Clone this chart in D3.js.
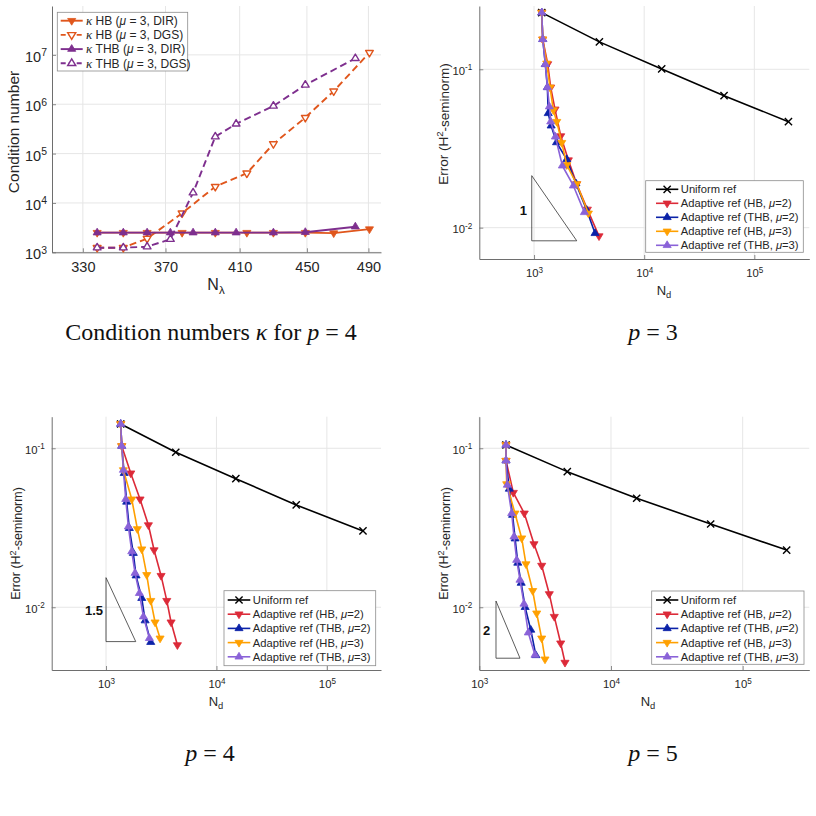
<!DOCTYPE html>
<html><head><meta charset="utf-8">
<script src="https://cdn.jsdelivr.net/npm/d3@7"></script>
<style>body{margin:0;background:#fff} svg{display:block}</style>
</head><body><svg id="c" width="816" height="816"></svg>
<script>
// ---------------- DATA ----------------
// Panel (a): condition numbers, p = 4
const condTicksX = [330, 370, 410, 450, 490];
const condTicksY = [1e3, 1e4, 1e5, 1e6, 1e7];
const condNHB  = [336.6, 349.0, 360.7, 378.6, 396.4, 414.1, 429.6, 449.0, 467.0, 490.7];
const condNTHB = [336.6, 349.0, 360.7, 372.5, 384.4, 396.4, 408.0, 429.6, 449.0, 481.2];
const kappaHB_DIR  = [2500, 2500, 2500, 2500, 2500, 2500, 2500, 2500, 2450, 2950];
const kappaHB_DGS  = [1240, 1240, 1900, 6200, 21400, 40000, 157000, 535000, 1840000, 11100000];
const kappaTHB_DIR = [2500, 2500, 2500, 2500, 2500, 2500, 2500, 2500, 2550, 3300];
const kappaTHB_DGS = [1240, 1240, 1300, 1840, 16100, 220000, 400000, 920000, 2460000, 8500000];
const condLegend = ["HB (", "HB (", "THB (", "THB ("];
const condLegendTail = ["DIR)", "DGS)", "DIR)", "DGS)"];

// error panels
const errTicksX = [1e3, 1e4, 1e5];
const errTicksY = [1e-2, 1e-1];
const errLegend = ["Uniform ref", "Adaptive ref (HB, ", "Adaptive ref (THB, ", "Adaptive ref (HB, ", "Adaptive ref (THB, "];
const errLegendMu = ["", "2", "2", "3", "3"];

// p = 3
const p3UniN = [1175, 3920, 14420, 53100, 204000];
const p3UniE = [0.228, 0.149, 0.1005, 0.0681, 0.0467];
const p3HB2N = [1175, 1200, 1331, 1417, 1551, 1747, 2050, 2440, 3050, 3890];
const p3HB2E = [0.228, 0.1547, 0.108, 0.0769, 0.0559, 0.0379, 0.0267, 0.01886, 0.01304, 0.00885];
const p3THB2N = [1175, 1200, 1267, 1322, 1345, 1430, 1600, 1982, 2400, 3008, 3578];
const p3THB2E = [0.228, 0.1547, 0.1075, 0.0769, 0.0527, 0.0440, 0.0345, 0.0270, 0.0190, 0.0129, 0.00921];
const p3HB3N = [1175, 1200, 1303, 1397, 1497, 1607, 1784, 1982, 2440, 3115];
const p3HB3E = [0.228, 0.1547, 0.1091, 0.0769, 0.0553, 0.0467, 0.0344, 0.0249, 0.01886, 0.01232];
const p3THB3N = [1175, 1200, 1267, 1322, 1378, 1417, 1562, 1808, 2276, 2865];
const p3THB3E = [0.228, 0.1547, 0.1075, 0.0769, 0.0581, 0.0467, 0.0375, 0.0246, 0.0184, 0.01249];
const p3TriN = [953, 2442];
const p3TriE = [0.0213, 0.00826];
const p3TriLabel = "1";

// p = 4
const p4UniN = [1358, 4280, 14980, 52740, 212200];
const p4UniE = [0.1422, 0.0944, 0.0644, 0.0440, 0.0302];
const p4HB2N = [1358, 1388, 1675, 2033, 2419, 2723, 3151, 3549, 3882, 4428];
const p4HB2E = [0.1422, 0.1034, 0.0697, 0.0478, 0.0329, 0.0229, 0.0158, 0.0110, 0.00805, 0.00579];
const p4THB2N = [1358, 1388, 1460, 1538, 1625, 1766, 1870, 2107, 2260, 2540];
const p4THB2E = [0.1422, 0.1034, 0.0697, 0.046, 0.0314, 0.0219, 0.0158, 0.0114, 0.00824, 0.00603];
const p4HB3N = [1358, 1388, 1436, 1710, 1922, 2107, 2338, 2542, 2781, 3086];
const p4HB3E = [0.1422, 0.1034, 0.0730, 0.0478, 0.0311, 0.0232, 0.0160, 0.0110, 0.00805, 0.00638];
const p4THB3N = [1358, 1388, 1436, 1508, 1594, 1710, 1831, 2005, 2180, 2470];
const p4THB3E = [0.1422, 0.1034, 0.0730, 0.0478, 0.0321, 0.0224, 0.0164, 0.01225, 0.00873, 0.00638];
const p4TriN = [1000, 1858];
const p4TriE = [0.01535, 0.00608];
const p4TriLabel = "1.5";

// p = 5
const p5UniN = [1595, 4658, 15670, 57150, 215800];
const p5UniE = [0.1049, 0.0713, 0.0485, 0.0334, 0.0229];
const p5HB2N = [1595, 1595, 1813, 2196, 2602, 2977, 3400, 3711, 4150, 4475];
const p5HB2E = [0.1049, 0.0836, 0.0526, 0.0390, 0.0250, 0.0183, 0.01213, 0.00873, 0.00594, 0.00449];
const p5THB2N = [1595, 1595, 1690, 1790, 1870, 1960, 2080, 2230, 2460, 2690];
const p5THB2E = [0.1049, 0.0836, 0.0555, 0.0380, 0.0270, 0.0190, 0.0142, 0.0100, 0.0072, 0.00498];
const p5HB3N = [1595, 1595, 1615, 1866, 2099, 2262, 2544, 2728, 2977, 3155];
const p5HB3E = [0.1049, 0.0836, 0.0596, 0.0390, 0.0272, 0.0187, 0.0127, 0.00917, 0.00638, 0.00471];
const p5THB3N = [1595, 1595, 1632, 1762, 1834, 1923, 2037, 2184, 2355, 2649];
const p5THB3E = [0.1049, 0.0836, 0.0588, 0.0390, 0.0278, 0.0198, 0.01485, 0.0105, 0.00692, 0.00501];
const p5TriN = [1339, 2037];
const p5TriE = [0.01095, 0.00478];
const p5TriLabel = "2";

// ---------------- DRAWING ----------------
const svg = d3.select("#c");
const SANS = "'Liberation Sans', Arial, Helvetica, sans-serif";
const SERIF = "'Liberation Serif', 'Times New Roman', serif";
const AX = "#6e6e6e", GRID = "#e6e6e6";
const C = {red: "#dc2a38", blue: "#0b22a8", orange: "#ffa000", purple: "#8a62d8",
           hb: "#e0561c", thb: "#7e2f8e"};

function triPath(r, down) {
  const h = r * 0.5, w = r * 0.9;
  return down ? `M0,${r} L${w},${-h} L${-w},${-h} Z` : `M0,${-r} L${w},${h} L${-w},${h} Z`;
}
function crossPath(r) { return `M${-r},${-r}L${r},${r}M${-r},${r}L${r},${-r}`; }

function supText(sel, exp) {
  sel.text(null);
  sel.append("tspan").text("10");
  sel.append("tspan").attr("dy", "-0.55em").attr("font-size", "0.72em").text(exp);
}

function frame(g, x, y, opts) {
  const [x0, x1] = x.range(), [y0, y1] = y.range();
  g.append("g").selectAll("line").data(opts.xt).join("line")
    .attr("x1", d => x(d)).attr("x2", d => x(d)).attr("y1", y0).attr("y2", y1)
    .attr("stroke", GRID).attr("stroke-width", 1);
  g.append("g").selectAll("line").data(opts.yt).join("line")
    .attr("y1", d => y(d)).attr("y2", d => y(d)).attr("x1", x0).attr("x2", x1)
    .attr("stroke", GRID).attr("stroke-width", 1);
  const ax = g.append("g").attr("transform", `translate(0,${y0})`)
    .call(d3.axisBottom(x).tickValues(opts.xt).tickSize(-4).tickSizeOuter(0).tickPadding(opts.xpad));
  const ay = g.append("g").attr("transform", `translate(${x0},0)`)
    .call(d3.axisLeft(y).tickValues(opts.yt).tickSize(-4).tickSizeOuter(0).tickPadding(opts.ypad));
  [ax, ay].forEach(a => {
    a.select(".domain").attr("stroke", AX).attr("stroke-width", 1);
    a.selectAll(".tick line").attr("stroke", AX).attr("stroke-width", 0.8);
    a.selectAll(".tick text").attr("font-family", SANS).attr("font-size", opts.fs).attr("fill", "#262626");
  });
  if (opts.xsup) ax.selectAll(".tick text").each(function(d) { supText(d3.select(this), Math.round(Math.log10(d))); });
  else ax.selectAll(".tick text").text(d => d);
  ay.selectAll(".tick text").each(function(d) { supText(d3.select(this), Math.round(Math.log10(d))); })
    .attr("dy", "0.45em");
}

function series(g, x, y, N, V, color, shape, o = {}) {
  const pts = N.map((n, i) => [n, V[i]]);
  g.append("path").datum(pts)
    .attr("d", d3.line().x(d => x(d[0])).y(d => y(d[1])))
    .attr("fill", "none").attr("stroke", color).attr("stroke-width", o.lw || 1.6)
    .attr("stroke-dasharray", o.dash || null).attr("stroke-linejoin", "round");
  const r = o.r || 4.5;
  const mk = g.append("g").selectAll("path").data(pts).join("path")
    .attr("transform", d => `translate(${x(d[0])},${y(d[1])})`);
  if (shape === "x") {
    mk.attr("d", crossPath(3.6)).attr("stroke", color).attr("stroke-width", 1.4).attr("fill", "none");
  } else {
    mk.attr("d", triPath(r, shape === "down"))
      .attr("fill", o.hollow ? "#fff" : color).attr("stroke", color)
      .attr("stroke-width", o.hollow ? 1.4 : 0.8).attr("stroke-linejoin", "round");
  }
}

function legendMarker(g, cx, cy, color, shape, o = {}) {
  const p = g.append("path").attr("transform", `translate(${cx},${cy})`);
  if (shape === "x") p.attr("d", crossPath(3.6)).attr("stroke", color).attr("stroke-width", 1.4).attr("fill", "none");
  else p.attr("d", triPath(4.5, shape === "down")).attr("fill", o.hollow ? "#fff" : color)
    .attr("stroke", color).attr("stroke-width", o.hollow ? 1.4 : 0.8);
}

// ---------- Panel: condition numbers ----------
{
  const g = svg.append("g");
  const x = d3.scaleLog().domain([316.2, 498.6]).range([52, 381]);
  const y = d3.scaleLog().domain([1e3, Math.pow(10, 7.99)]).range([252.3, 6]);
  frame(g, x, y, {xt: condTicksX, yt: condTicksY, xpad: 9.5, ypad: 5, fs: 14.5, xsup: false});
  series(g, x, y, condNHB, kappaHB_DIR, C.hb, "down", {lw: 1.9});
  series(g, x, y, condNHB, kappaHB_DGS, C.hb, "down", {lw: 1.9, dash: "7,4", hollow: true, r: 4.3});
  series(g, x, y, condNTHB, kappaTHB_DIR, C.thb, "up", {lw: 1.9});
  series(g, x, y, condNTHB, kappaTHB_DGS, C.thb, "up", {lw: 1.9, dash: "7,4", hollow: true, r: 4.3});
  g.append("text").attr("transform", "translate(18.5,132) rotate(-90)").attr("text-anchor", "middle")
    .attr("font-family", SANS).attr("font-size", 15.5).attr("fill", "#262626").text("Condition number");
  const xl = g.append("text").attr("x", 216).attr("y", 290).attr("text-anchor", "middle")
    .attr("font-family", SANS).attr("font-size", 16).attr("fill", "#262626");
  xl.append("tspan").text("N");
  xl.append("tspan").attr("dy", "0.35em").attr("font-size", "0.72em").text("λ");
  const lg = g.append("g");
  lg.append("rect").attr("x", 57.3).attr("y", 12.3).attr("width", 130.4).attr("height", 58.7)
    .attr("fill", "#fff").attr("stroke", "#8c8c8c").attr("stroke-width", 0.8);
  const specs = [[C.hb, "down", false, null], [C.hb, "down", true, "5,3"], [C.thb, "up", false, null], [C.thb, "up", true, "5,3"]];
  specs.forEach((s, i) => {
    const yy = 20.7 + i * 14.2;
    lg.append("line").attr("x1", 60.7).attr("x2", 82.7).attr("y1", yy).attr("y2", yy)
      .attr("stroke", s[0]).attr("stroke-width", 1.9).attr("stroke-dasharray", s[3]);
    legendMarker(lg, 71.7, yy, s[0], s[1], {hollow: s[2]});
    const t = lg.append("text").attr("x", 86).attr("y", yy + 4.2).attr("font-family", SANS)
      .attr("font-size", 12).attr("fill", "#262626");
    t.append("tspan").attr("font-style", "italic").attr("font-family", SERIF).attr("font-size", 13).text("κ");
    t.append("tspan").text(" " + condLegend[i]);
    t.append("tspan").attr("font-style", "italic").text("μ");
    t.append("tspan").text(" = 3, " + condLegendTail[i]);
  });
}

// ---------- Error panels ----------
function errorPanel(cfg) {
  const g = svg.append("g");
  const x = d3.scaleLog().domain(cfg.xd).range(cfg.xr);
  const y = d3.scaleLog().domain(cfg.yd).range(cfg.yr);
  frame(g, x, y, {xt: errTicksX, yt: errTicksY, xpad: 10, ypad: 7, fs: 11.3, xsup: true});
  const [tn0, tn1] = cfg.triN, [te0, te1] = cfg.triE;
  g.append("path")
    .attr("d", `M${x(tn0)},${y(te0)}L${x(tn0)},${y(te1)}L${x(tn1)},${y(te1)}Z`)
    .attr("fill", "none").attr("stroke", "#333").attr("stroke-width", 0.8);
  g.append("text").attr("x", cfg.triLab[0]).attr("y", cfg.triLab[1]).attr("text-anchor", "middle")
    .attr("font-family", SANS).attr("font-weight", "bold").attr("font-size", 13).attr("fill", "#111")
    .text(cfg.triText);
  const cols = ["#000", C.red, C.blue, C.orange, C.purple];
  const shapes = ["x", "down", "up", "down", "up"];
  cfg.N.forEach((N, i) => series(g, x, y, N, cfg.E[i], cols[i], shapes[i], {lw: 1.6}));
  g.append("text").attr("transform", `translate(${cfg.ylab[0]},${cfg.ylab[1]}) rotate(-90)`).attr("text-anchor", "middle")
    .attr("font-family", SANS).attr("font-size", cfg.ylfs).attr("fill", "#262626")
    .call(t => { t.append("tspan").text("Error (H"); t.append("tspan").attr("dy", "-0.45em").attr("font-size", "0.72em").text("2");
                 t.append("tspan").attr("dy", "0.45em").text("-seminorm)"); });
  const xl = g.append("text").attr("x", cfg.xlab[0]).attr("y", cfg.xlab[1]).attr("text-anchor", "middle")
    .attr("font-family", SANS).attr("font-size", 13).attr("fill", "#262626");
  xl.append("tspan").text("N");
  xl.append("tspan").attr("dy", "0.35em").attr("font-size", "0.72em").text("d");
  const L = cfg.leg;
  const lg = g.append("g");
  lg.append("rect").attr("x", L.x0).attr("y", L.y0).attr("width", L.x1 - L.x0).attr("height", L.y1 - L.y0)
    .attr("fill", "#fff").attr("stroke", "#8c8c8c").attr("stroke-width", 0.8);
  errLegend.forEach((lab, i) => {
    const yy = L.r0 + i * L.dr;
    lg.append("line").attr("x1", L.l0).attr("x2", L.l1).attr("y1", yy).attr("y2", yy)
      .attr("stroke", cols[i]).attr("stroke-width", 1.6);
    legendMarker(lg, (L.l0 + L.l1) / 2, yy, cols[i], shapes[i]);
    const t = lg.append("text").attr("x", L.l1 + 2.5).attr("y", yy + 4).attr("font-family", SANS)
      .attr("font-size", 11.2).attr("fill", "#262626");
    t.append("tspan").text(lab);
    if (errLegendMu[i]) {
      t.append("tspan").attr("font-style", "italic").text("μ");
      t.append("tspan").text("=" + errLegendMu[i] + ")");
    }
  });
}

errorPanel({
  xd: [Math.pow(10, 2.503), Math.pow(10, 5.499)], xr: [479.3, 809.3],
  yd: [0.00634, 0.251], yr: [259, 6],
  N: [p3UniN, p3HB2N, p3THB2N, p3HB3N, p3THB3N], E: [p3UniE, p3HB2E, p3THB2E, p3HB3E, p3THB3E],
  triN: p3TriN, triE: p3TriE, triText: p3TriLabel, triLab: [523.3, 214.5],
  ylab: [447.5, 124], ylfs: 13.5, xlab: [664, 295],
  leg: {x0: 645.7, x1: 803.3, y0: 180.7, y1: 252.3, r0: 189.3, dr: 14, l0: 656, l1: 678.3}
});
errorPanel({
  xd: [Math.pow(10, 2.508), Math.pow(10, 5.49)], xr: [51.7, 381],
  yd: [0.00403, 0.158], yr: [670, 416.7],
  N: [p4UniN, p4HB2N, p4THB2N, p4HB3N, p4THB3N], E: [p4UniE, p4HB2E, p4THB2E, p4HB3E, p4THB3E],
  triN: p4TriN, triE: p4TriE, triText: p4TriLabel, triLab: [94, 615],
  ylab: [20, 543.5], ylfs: 12.5, xlab: [216, 706],
  leg: {x0: 224, x1: 375.7, y0: 590.7, y1: 665.7, r0: 600, dr: 14.2, l0: 227.7, l1: 250.3}
});
errorPanel({
  xd: [1000, Math.pow(10, 5.506)], xr: [479.3, 809.3],
  yd: [0.00403, 0.158], yr: [670, 416.7],
  N: [p5UniN, p5HB2N, p5THB2N, p5HB3N, p5THB3N], E: [p5UniE, p5HB2E, p5THB2E, p5HB3E, p5THB3E],
  triN: p5TriN, triE: p5TriE, triText: p5TriLabel, triLab: [486.7, 634.5],
  ylab: [448, 543.5], ylfs: 12.5, xlab: [648, 706],
  leg: {x0: 651.7, x1: 804, y0: 591, y1: 664.3, r0: 600, dr: 14.2, l0: 656, l1: 678.3}
});

// ---------- captions ----------
function caption(cx, cy, parts) {
  const t = svg.append("text").attr("x", cx).attr("y", cy).attr("text-anchor", "middle")
    .attr("font-family", SERIF).attr("font-size", 24).attr("fill", "#111");
  parts.forEach(p => t.append("tspan").attr("font-style", p[1] ? "italic" : "normal").text(p[0]));
}
caption(211, 340, [["Condition numbers ", false], ["κ", true], [" for ", false], ["p", true], [" = 4", false]]);
caption(653, 340, [["p", true], [" = 3", false]]);
caption(210, 761, [["p", true], [" = 4", false]]);
caption(653, 761, [["p", true], [" = 5", false]]);
</script></body></html>
